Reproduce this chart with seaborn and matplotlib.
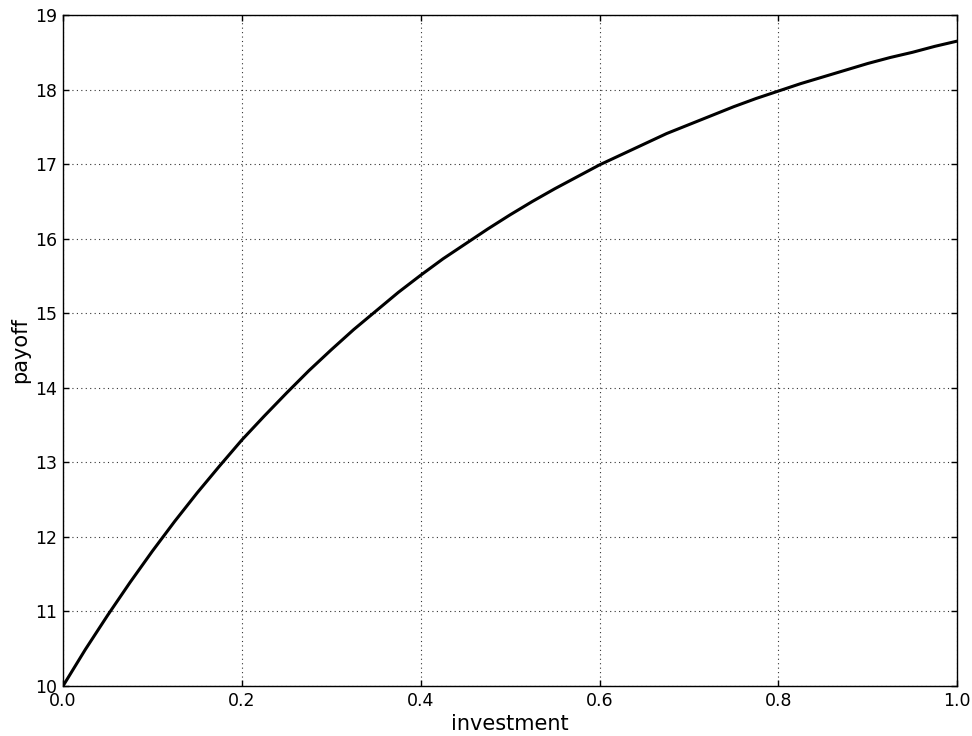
import matplotlib
matplotlib.use("Agg")
import matplotlib.pyplot as plt
import seaborn as sns
import pandas as pd

investment = [0.0, 0.025, 0.05, 0.075, 0.1, 0.125, 0.15, 0.175, 0.2, 0.225,
              0.25, 0.275, 0.3, 0.325, 0.35, 0.375, 0.4, 0.425, 0.45, 0.475,
              0.5, 0.525, 0.55, 0.575, 0.6, 0.625, 0.65, 0.675, 0.7, 0.725,
              0.75, 0.775, 0.8, 0.825, 0.85, 0.875, 0.9, 0.925, 0.95, 0.975, 1.0]
payoff = [10.0, 10.49, 10.95, 11.39, 11.81, 12.21, 12.59, 12.95, 13.30, 13.62,
          13.93, 14.23, 14.51, 14.78, 15.03, 15.28, 15.51, 15.73, 15.93, 16.13,
          16.32, 16.50, 16.67, 16.83, 16.99, 17.13, 17.27, 17.41, 17.53, 17.65,
          17.77, 17.88, 17.98, 18.08, 18.17, 18.26, 18.35, 18.43, 18.50, 18.58, 18.65]
x_ticks = [0.0, 0.2, 0.4, 0.6, 0.8, 1.0]
y_ticks = [10, 11, 12, 13, 14, 15, 16, 17, 18, 19]

sns.set_style("white")
plt.rcParams['font.family'] = ['DejaVu Sans']

df = pd.DataFrame({"investment": investment, "payoff": payoff})

fig = plt.figure(figsize=(9.72, 7.36), dpi=100)
ax = fig.add_axes([0.0648, 0.0679, 0.92, 0.9117])
sns.lineplot(data=df, x="investment", y="payoff", color="black", linewidth=2.2, ax=ax)

ax.set_xlim(0, 1)
ax.set_ylim(10, 19)
ax.set_xticks(x_ticks)
ax.set_yticks(y_ticks)
ax.set_xticklabels([f"{t:.1f}" for t in x_ticks])
ax.set_yticklabels([str(t) for t in y_ticks])
ax.tick_params(direction="in", length=4, width=1, top=True, right=True,
               bottom=True, left=True, labelsize=12.5, colors="black", pad=4)
ax.grid(True, color="black", linestyle=(0, (1, 3)), linewidth=0.8, alpha=0.8)
for s in ax.spines.values():
    s.set_color("black")
    s.set_linewidth(1.0)
ax.set_xlabel("investment", fontsize=15, labelpad=3, color="black")
ax.set_ylabel("payoff", fontsize=15, labelpad=4, color="black")
fig.savefig("out.png", dpi=100, facecolor="white")
